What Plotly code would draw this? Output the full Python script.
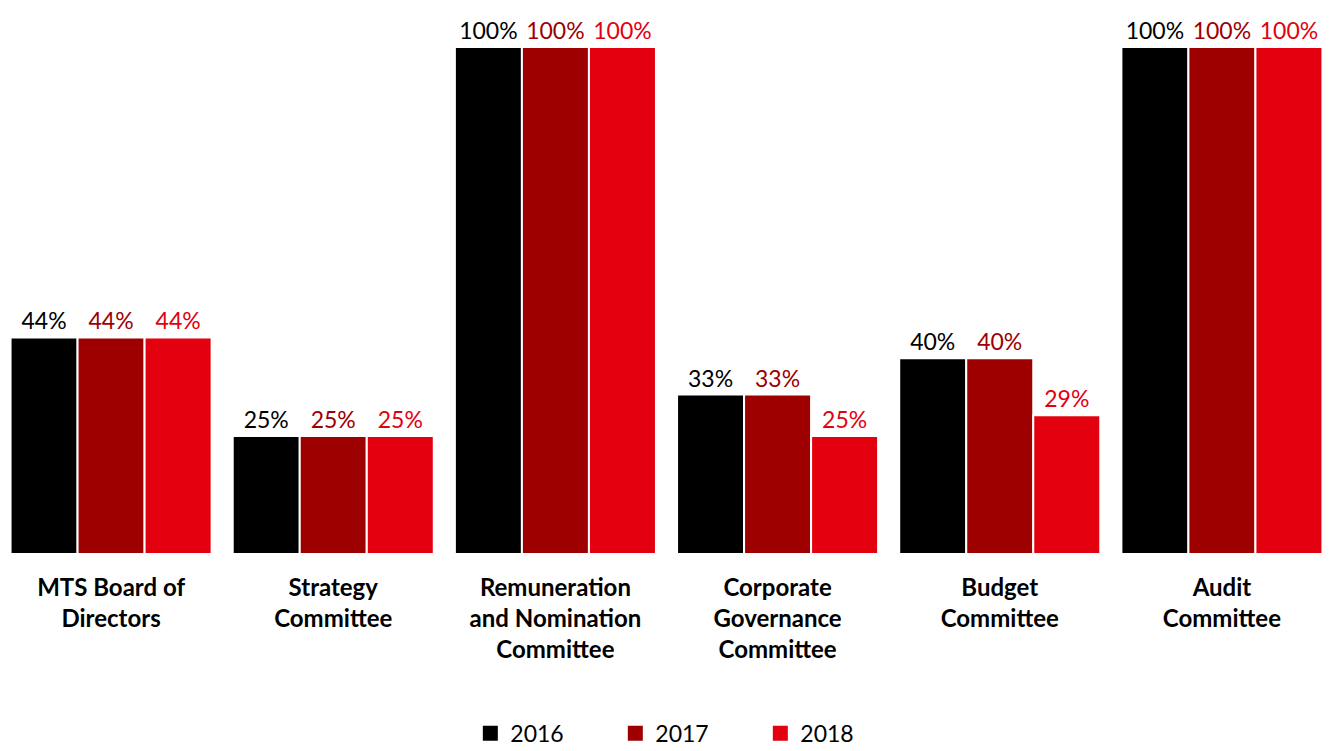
import plotly.graph_objects as go

categories = [
    "MTS Board of<br>Directors",
    "Strategy<br>Committee",
    "Remuneration<br>and Nomination<br>Committee",
    "Corporate<br>Governance<br>Committee",
    "Budget<br>Committee",
    "Audit<br>Committee",
]
years = ["2016", "2017", "2018"]
values_2016 = [44, 25, 100, 33, 40, 100]
values_2017 = [44, 25, 100, 33, 40, 100]
values_2018 = [44, 25, 100, 25, 29, 100]
colors = ["#000000", "#9E0000", "#E3000F"]

fig = go.Figure()
for name, vals, col in zip(years, [values_2016, values_2017, values_2018], colors):
    fig.add_trace(go.Bar(
        x=categories, y=vals, name=name, showlegend=False,
        marker=dict(color=col, line=dict(color="white", width=2)),
        text=[f"{v}%" for v in vals],
        textposition="outside",
        textfont=dict(family="Lato", size=23, color=col),
        cliponaxis=False,
    ))
# legend entries with bigger square swatches
for name, col in zip(years, colors):
    fig.add_trace(go.Scatter(
        x=[None], y=[None], name=name, mode="markers",
        marker=dict(symbol="square", size=15, color=col),
    ))

fig.update_layout(
    width=1333, height=751,
    barmode="group", bargap=0.095, bargroupgap=0,
    plot_bgcolor="white", paper_bgcolor="white",
    margin=dict(l=0, r=0, t=47, b=198, autoexpand=False),
    font=dict(family="Lato", color="black"),
    yaxis=dict(range=[2.44, 100], visible=False, automargin=False),
    xaxis=dict(showline=False, ticks="", automargin=False,
               tickfont=dict(family="Lato", size=24, color="black", weight="bold"),
               ticklabelstandoff=18),
    legend=dict(orientation="h", x=0.516, xanchor="center", y=-0.314, yanchor="top",
                font=dict(family="Lato", size=23, color="black"), entrywidth=100,
                itemwidth=30),
    showlegend=True,
)
fig.write_html("out.html", config={"displayModeBar": False},
               post_script="document.body.style.margin='0';")
